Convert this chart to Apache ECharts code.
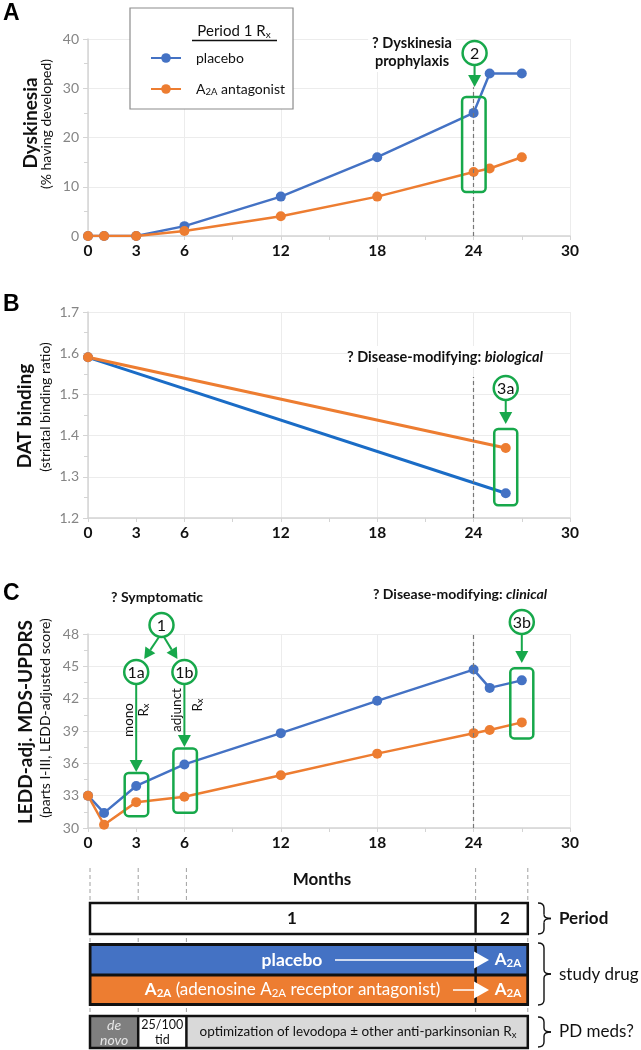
<!DOCTYPE html>
<html><head><meta charset="utf-8">
<script src="https://cdn.jsdelivr.net/npm/echarts@6/dist/echarts.min.js"></script>
<style>html,body{margin:0;padding:0;background:#fff}#c{width:641px;height:1050px}</style>
</head><body><div id="c"></div>
<script>
// ---------------- data ----------------
const months = [0, 1, 3, 6, 12, 18, 24, 25, 27];
const dyskPlacebo = [0, 0, 0, 2, 8, 16, 25, 33, 33];
const dyskA2A = [0, 0, 0, 1, 4, 8, 13, 13.7, 16];
const datMonths = [0, 26];
const datPlacebo = [1.59, 1.26];
const datA2A = [1.59, 1.37];
const updrsPlacebo = [33, 31.4, 33.9, 35.9, 38.8, 41.8, 44.7, 43.0, 43.7];
const updrsA2A = [33, 30.3, 32.4, 32.9, 34.9, 36.9, 38.8, 39.1, 39.8];
const xTickLabels = [0, 3, 6, 12, 18, 24, 30];
const timelineMarks = [0, 3, 6, 24, 27];

// ---------------- style ----------------
const FF = 'Lato, "Noto Sans", sans-serif';
const BLUE = '#4472C4', ORANGE = '#ED7D31', GREEN = '#17a84b';
const grids = [
  {left: 88, top: 39, width: 482, height: 197},
  {left: 88, top: 312, width: 482, height: 206},
  {left: 88, top: 634, width: 482, height: 194}
];
const yCfg = [
  {min: 0, max: 40, interval: 10, fmt: v => String(v)},
  {min: 1.2, max: 1.7, interval: 0.1, fmt: v => v.toFixed(1)},
  {min: 30, max: 48, interval: 3, fmt: v => String(v)}
];

const xAxes = [], yAxes = [];
grids.forEach((g, i) => {
  xAxes.push({
    type: 'value', gridIndex: i, min: 0, max: 30, interval: 3,
    axisLine: {show: true, lineStyle: {color: '#d4d4d4', width: 1.5}},
    axisTick: {show: true, length: 4, lineStyle: {color: '#d4d4d4'}},
    axisLabel: {margin: 7, fontFamily: FF, fontSize: 15.5, fontWeight: 'bold', color: '#111',
      formatter: v => xTickLabels.indexOf(v) >= 0 ? String(v) : ''},
    splitLine: {show: false}
  });
  xAxes.push({
    type: 'value', gridIndex: i, min: 0, max: 30, interval: 6,
    axisLine: {show: false}, axisTick: {show: false}, axisLabel: {show: false},
    splitLine: {show: true, lineStyle: {color: '#ececec', width: 1}}
  });
  const c = yCfg[i];
  yAxes.push({
    type: 'value', gridIndex: i, min: c.min, max: c.max, interval: c.interval,
    axisLine: {show: true, lineStyle: {color: '#d4d4d4', width: 1.5}},
    axisTick: {show: true, length: 5, lineStyle: {color: '#d4d4d4'}},
    minorTick: {show: true, splitNumber: 2, length: 4, lineStyle: {color: '#d4d4d4'}},
    axisLabel: {margin: 9, fontFamily: FF, fontSize: 14, color: '#858585', formatter: c.fmt},
    splitLine: {show: true, lineStyle: {color: '#ececec', width: 1}}
  });
});

const dash = {type: [4, 3], color: '#777', width: 1.2};
function lineSeries(name, xi, yi, xs, ys, color, extra) {
  return Object.assign({
    type: 'line', name, xAxisIndex: xi, yAxisIndex: yi,
    data: xs.map((m, k) => [m, ys[k]]),
    symbol: 'circle', symbolSize: 10, showSymbol: true,
    lineStyle: {color, width: 2.5}, itemStyle: {color}, z: 3
  }, extra || {});
}

const series = [
  lineSeries('placebo', 0, 0, months, dyskPlacebo, BLUE, {
    markLine: {silent: true, symbol: 'none', label: {show: false}, lineStyle: dash,
      data: [[{coord: [24, 0]}, {coord: [24, 30.2]}]]}
  }),
  lineSeries('A2A antagonist', 0, 0, months, dyskA2A, ORANGE),
  lineSeries('placebo', 2, 1, datMonths, datPlacebo, BLUE, {
    lineStyle: {color: '#1a6cc6', width: 3},
    markLine: {silent: true, symbol: 'none', label: {show: false}, lineStyle: dash,
      data: [[{coord: [24, 1.2]}, {coord: [24, 1.542]}]]}
  }),
  lineSeries('A2A antagonist', 2, 1, datMonths, datA2A, ORANGE, {lineStyle: {color: ORANGE, width: 3}}),
  lineSeries('placebo', 4, 2, months, updrsPlacebo, BLUE, {
    markLine: {silent: true, symbol: 'none', label: {show: false}, lineStyle: dash,
      data: [[{coord: [24, 30]}, {coord: [24, 48]}]]}
  }),
  lineSeries('A2A antagonist', 4, 2, months, updrsA2A, ORANGE)
];

const chart = echarts.init(document.getElementById('c'), null, {renderer: 'canvas'});
chart.setOption({
  animation: false,
  backgroundColor: '#fff',
  grid: grids,
  xAxis: xAxes,
  yAxis: yAxes,
  legend: {
    data: ['placebo', 'A2A antagonist'], orient: 'vertical', left: 130, top: 8,
    padding: [43, 8, 12, 20], itemGap: 17, itemWidth: 30, itemHeight: 12,
    borderColor: '#8c8c8c', borderWidth: 1.2, backgroundColor: '#fff',
    textStyle: {fontFamily: FF, fontSize: 14, color: '#111',
      rich: {g: {width: 10}, n: {fontFamily: FF, fontSize: 14, color: '#111'},
             s: {fontFamily: FF, fontSize: 9.5, color: '#111', padding: [6, 0, 0, 0]}}},
    formatter: name => name === 'A2A antagonist' ? '{g|}{n|A}{s|2A}{n| antagonist}' : '{g|}{n|placebo}'
  },
  series
});

// ---------------- annotations ----------------
const els = [];
function txt(x, y, t, st, rot, z) {
  els.push({type: 'text', x, y, rotation: rot || 0, z: z || 100,
    style: Object.assign({text: t, align: 'center', verticalAlign: 'middle',
      fontFamily: FF, fontSize: 15, fill: '#111'}, st || {})});
}
function circ(cx, cy, label) {
  els.push({type: 'circle', z: 101, shape: {cx, cy, r: 12}, style: {fill: '#fff', stroke: GREEN, lineWidth: 2.5}});
  txt(cx, cy + 0.5, label, {fontSize: 16}, 0, 102);
}
function arrow(x1, y1, x2, y2, color, lw, hl, hw, z) {
  const a = Math.atan2(y2 - y1, x2 - x1);
  const bx = x2 - hl * Math.cos(a), by = y2 - hl * Math.sin(a);
  const nx = -Math.sin(a), ny = Math.cos(a);
  els.push({type: 'line', z: z || 100, shape: {x1, y1, x2: bx, y2: by}, style: {stroke: color, lineWidth: lw}});
  els.push({type: 'polygon', z: z || 100, shape: {points: [[x2, y2], [bx + nx * hw, by + ny * hw], [bx - nx * hw, by - ny * hw]]}, style: {fill: color}});
}
function gbox(x0, y0, x1, y1) {
  els.push({type: 'rect', z: 100, shape: {x: x0, y: y0, width: x1 - x0, height: y1 - y0, r: 4},
    style: {fill: 'rgba(0,0,0,0)', stroke: GREEN, lineWidth: 2.5}});
}
const XP = (ai, v) => chart.convertToPixel({xAxisIndex: ai}, v);
const YP = (ai, v) => chart.convertToPixel({yAxisIndex: ai}, v);

// panel letters
[['A', 14], ['B', 305], ['C', 594]].forEach(([l, y]) =>
  els.push({type: 'text', x: 3, y, z: 100, style: {text: l, fontFamily: '"Liberation Sans", Arial, sans-serif',
    fontWeight: 'bold', fontSize: 23, fill: '#000', verticalAlign: 'middle'}}));

// y axis names
const R = Math.PI / 2;
txt(31, 123, 'Dyskinesia', {fontSize: 19, fontWeight: 'bold'}, R);
txt(46, 124, '(% having developed)', {fontSize: 14}, R);
txt(25, 416, 'DAT binding', {fontSize: 19, fontWeight: 'bold'}, R);
txt(45, 407, '(striatal binding ratio)', {fontSize: 14}, R);
txt(26, 722, 'LEDD-adj. MDS-UPDRS', {fontSize: 19, fontWeight: 'bold'}, R);
txt(45, 718, '(parts I-III, LEDD-adjusted score)', {fontSize: 14}, R);

// legend title
els.push({type: 'text', x: 234, y: 31, z: 110, style: {text: '{n|Period 1 R}{s|x}', align: 'center', verticalAlign: 'middle',
  rich: {n: {fontFamily: FF, fontSize: 15, fill: '#111'}, s: {fontFamily: FF, fontSize: 10, fill: '#111', padding: [7, 0, 0, 0]}}}});
els.push({type: 'line', z: 110, shape: {x1: 192, y1: 40.5, x2: 277, y2: 40.5}, style: {stroke: '#111', lineWidth: 1.5}});

const boldRich = {b: {fontFamily: FF, fontSize: 14, fontWeight: 'bold', fill: '#111'},
  bi: {fontFamily: FF, fontSize: 14, fontWeight: 'bold', fontStyle: 'italic', fill: '#111'}};
const boldRichL = {b: {fontFamily: FF, fontSize: 14.5, fontWeight: 'bold', fill: '#111'},
  bi: {fontFamily: FF, fontSize: 14.5, fontWeight: 'bold', fontStyle: 'italic', fill: '#111'}};

// ---- Panel A annotations
{
  const xc = XP(0, 24);
  txt(412, 52, '? Dyskinesia\nprophylaxis', {fontSize: 14.5, fontWeight: 'bold', lineHeight: 18,
    backgroundColor: '#fff', padding: [2, 4, 2, 4]});
  circ(xc + 1, 53, '2');
  arrow(xc + 1, 65, xc + 1, 87, GREEN, 2, 12, 6.5);
  gbox(xc - 11.5, YP(0, 25) - 16, xc + 12, YP(0, 13) + 20);
}
// ---- Panel B annotations
{
  const xc = XP(2, 26);
  els.push({type: 'rect', z: 99, shape: {x: 348, y: 346, width: 194, height: 22}, style: {fill: '#fff'}});
  els.push({type: 'text', x: 445, y: 357, z: 100, style: {text: '{b|? Disease-modifying: }{bi|biological}',
    align: 'center', verticalAlign: 'middle', rich: boldRichL}});
  circ(xc, 388, '3a');
  arrow(xc, 400, xc, 424, GREEN, 2, 12, 6.5);
  gbox(xc - 11.5, YP(1, 1.37) - 19, xc + 11.5, YP(1, 1.26) + 12);
}
// ---- Panel C annotations
{
  const x3 = XP(4, 3), x6 = XP(4, 6), x27 = XP(4, 27);
  txt(157, 597, '? Symptomatic', {fontSize: 14, fontWeight: 'bold'});
  circ(161.5, 625, '1');
  circ(x3, 672, '1a');
  circ(x6, 672, '1b');
  arrow(159, 637, x3 + 8, 659, GREEN, 2, 11, 6);
  arrow(164, 637, x6 - 7, 659, GREEN, 2, 11, 6);
  arrow(x3, 684, x3, 772, GREEN, 2, 12, 6.5);
  arrow(x6, 684, x6, 747, GREEN, 2, 12, 6.5);
  gbox(x3 - 11.5, YP(2, 33.9) - 13, x3 + 12, YP(2, 32.4) + 14);
  gbox(x6 - 11, YP(2, 35.9) - 16, x6 + 12.5, YP(2, 32.9) + 16);
  txt(x3 - 8, 720, 'mono', {fontSize: 13.5}, R);
  els.push({type: 'text', x: x3 + 7, y: 710, rotation: R, z: 100, style: {text: '{n|R}{s|x}', align: 'center', verticalAlign: 'middle',
    rich: {n: {fontFamily: FF, fontSize: 13.5, fill: '#111'}, s: {fontFamily: FF, fontSize: 9.5, fill: '#111', padding: [6, 0, 0, 0]}}}});
  txt(x6 - 8, 710, 'adjunct', {fontSize: 13.5}, R);
  els.push({type: 'text', x: x6 + 13, y: 705, rotation: R, z: 100, style: {text: '{n|R}{s|x}', align: 'center', verticalAlign: 'middle',
    rich: {n: {fontFamily: FF, fontSize: 13.5, fill: '#111'}, s: {fontFamily: FF, fontSize: 9.5, fill: '#111', padding: [6, 0, 0, 0]}}}});
  els.push({type: 'text', x: 460, y: 594, z: 100, style: {text: '{b|? Disease-modifying: }{bi|clinical}',
    align: 'center', verticalAlign: 'middle', rich: boldRich}});
  circ(x27, 622, '3b');
  arrow(x27, 634, x27, 663, GREEN, 2, 12, 6.5);
  gbox(x27 - 11.5, YP(2, 43.7) - 12, x27 + 11.5, YP(2, 39.8) + 16);
}

// ---- Timeline
{
  const T = m => XP(4, m) + (m === 27 ? 6 : 2);
  const t0 = T(0), t3 = T(3), t6 = T(6), t24 = T(24), t27 = T(27);
  timelineMarks.forEach(m => {
    els.push({type: 'line', z: 50, shape: {x1: T(m), y1: 868, x2: T(m), y2: 1049},
      style: {stroke: '#a0a0a0', lineWidth: 1, lineDash: [4, 3]}});
  });
  txt(322, 880, 'Months', {fontSize: 17, fontWeight: 'bold'});
  // period
  els.push({type: 'rect', z: 60, shape: {x: t0, y: 903, width: t27 - t0, height: 31}, style: {fill: '#fff', stroke: '#111', lineWidth: 2.5}});
  els.push({type: 'line', z: 61, shape: {x1: t24, y1: 903, x2: t24, y2: 934}, style: {stroke: '#111', lineWidth: 2.5}});
  txt(292, 918.5, '1', {fontSize: 17, fontWeight: 'bold'});
  txt(505, 918.5, '2', {fontSize: 17, fontWeight: 'bold'});
  // study drug
  els.push({type: 'rect', z: 60, shape: {x: t0 - 1.25, y: 943, width: t27 - t0 + 2.5, height: 63}, style: {fill: '#111'}});
  els.push({type: 'rect', z: 61, shape: {x: t0 + 1.5, y: 946, width: t27 - t0 - 3, height: 27.5}, style: {fill: BLUE}});
  els.push({type: 'rect', z: 61, shape: {x: t0 + 1.5, y: 976.5, width: t27 - t0 - 3, height: 26.5}, style: {fill: ORANGE}});
  els.push({type: 'line', z: 62, shape: {x1: t24, y1: 943, x2: t24, y2: 1006}, style: {stroke: '#111', lineWidth: 2.5}});
  txt(292, 960, 'placebo', {fontSize: 17.5, fontWeight: 'bold', fill: '#fff'}, 0, 64);
  arrow(335, 960, 489, 960, '#fff', 1.5, 15, 8.5, 63);
  arrow(453, 990, 489, 990, '#fff', 1.5, 15, 8.5, 63);
  const a2aRich = {b: {fontFamily: FF, fontSize: 17, fontWeight: 'bold', fill: '#fff'},
    bs: {fontFamily: FF, fontSize: 11.5, fontWeight: 'bold', fill: '#fff', padding: [6, 0, 0, 0]},
    n: {fontFamily: FF, fontSize: 17, fill: '#fff'},
    s: {fontFamily: FF, fontSize: 11.5, fill: '#fff', padding: [6, 0, 0, 0]}};
  [960, 990].forEach(y => els.push({type: 'text', x: 508, y, z: 64, style: {text: '{b|A}{bs|2A}', align: 'center', verticalAlign: 'middle', rich: a2aRich}}));
  els.push({type: 'text', x: 292.5, y: 990, z: 64, style: {text: '{b|A}{bs|2A}{n| (adenosine A}{s|2A}{n| receptor antagonist)}',
    align: 'center', verticalAlign: 'middle', rich: a2aRich}});
  // PD meds
  els.push({type: 'rect', z: 60, shape: {x: t0, y: 1016, width: t3 - t0, height: 32}, style: {fill: '#7f7f7f'}});
  els.push({type: 'rect', z: 60, shape: {x: t3, y: 1016, width: t6 - t3, height: 32}, style: {fill: '#fff'}});
  els.push({type: 'rect', z: 60, shape: {x: t6, y: 1016, width: t27 - t6, height: 32}, style: {fill: '#d9d9d9'}});
  els.push({type: 'rect', z: 61, shape: {x: t0, y: 1016, width: t27 - t0, height: 32}, style: {fill: 'rgba(0,0,0,0)', stroke: '#111', lineWidth: 2.5}});
  [t3, t6].forEach(x => els.push({type: 'line', z: 61, shape: {x1: x, y1: 1016, x2: x, y2: 1048}, style: {stroke: '#111', lineWidth: 2.5}}));
  txt((t0 + t3) / 2, 1025, 'de', {fontSize: 14, fontStyle: 'italic', fill: '#e6e6e6'});
  txt((t0 + t3) / 2, 1040, 'novo', {fontSize: 14, fontStyle: 'italic', fill: '#e6e6e6'});
  txt((t3 + t6) / 2, 1025, '25/100', {fontSize: 12.5});
  txt((t3 + t6) / 2, 1040, 'tid', {fontSize: 12.5});
  els.push({type: 'text', x: 358, y: 1032, z: 100, style: {text: '{n|optimization of levodopa \u00b1 other anti-parkinsonian R}{s|x}',
    align: 'center', verticalAlign: 'middle',
    rich: {n: {fontFamily: FF, fontSize: 13.5, fill: '#111'}, s: {fontFamily: FF, fontSize: 9.5, fill: '#111', padding: [6, 0, 0, 0]}}}});
  // braces built from lines and quadratic curves
  function brace(x, y0, y1) {
    const ym = (y0 + y1) / 2, xm = x + 6, st = {stroke: '#111', lineWidth: 1.4, fill: null};
    const seg = (a, b, c) => els.push({type: 'bezierCurve', z: 100,
      shape: {x1: a[0], y1: a[1], cpx1: b[0], cpy1: b[1], x2: c[0], y2: c[1]}, style: st});
    const ln = (a, b) => els.push({type: 'line', z: 100, shape: {x1: a[0], y1: a[1], x2: b[0], y2: b[1]}, style: st});
    seg([x, y0], [xm, y0], [xm, y0 + 5]);
    ln([xm, y0 + 5], [xm, ym - 4]);
    seg([xm, ym - 4], [xm, ym], [x + 13, ym]);
    seg([x + 13, ym], [xm, ym], [xm, ym + 4]);
    ln([xm, ym + 4], [xm, y1 - 5]);
    seg([xm, y1 - 5], [xm, y1], [x, y1]);
  }
  brace(538, 903, 934);
  brace(538, 943, 1005);
  brace(538, 1017, 1047);
  els.push({type: 'text', x: 559, y: 918.5, z: 100, style: {text: 'Period', fontFamily: FF, fontSize: 17, fontWeight: 'bold', fill: '#111', verticalAlign: 'middle'}});
  els.push({type: 'text', x: 559, y: 975, z: 100, style: {text: 'study drug', fontFamily: FF, fontSize: 17, fill: '#111', verticalAlign: 'middle'}});
  els.push({type: 'text', x: 559, y: 1032, z: 100, style: {text: 'PD meds?', fontFamily: FF, fontSize: 17, fill: '#111', verticalAlign: 'middle'}});
}

chart.setOption({graphic: {elements: els}});
</script>
</body></html>
